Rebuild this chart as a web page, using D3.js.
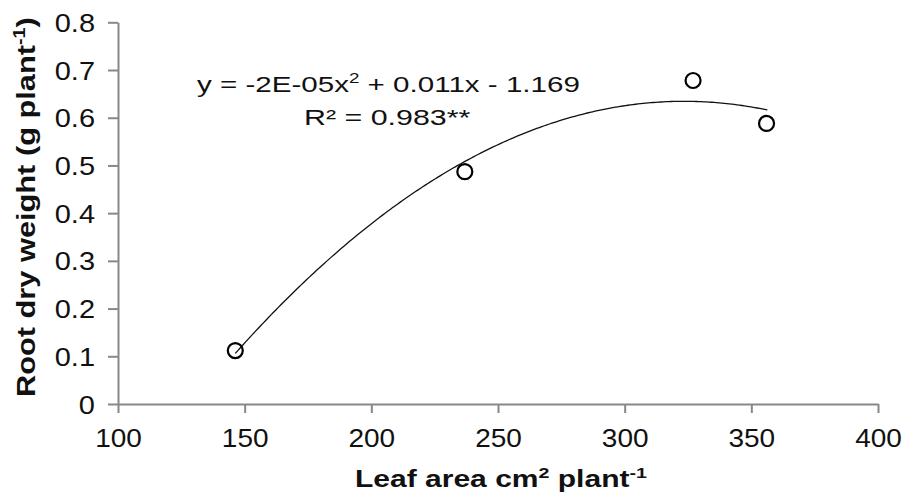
<!DOCTYPE html>
<html>
<head>
<meta charset="utf-8">
<script src="https://cdn.jsdelivr.net/npm/d3@7"></script>
<style>
  body { margin: 0; background: #fff; }
  svg { font-family: "Liberation Sans", Arial, sans-serif; }
  .axis path, .axis line { stroke: #888; stroke-width: 2; }
  .axis text { font-size: 25px; fill: #111; }
</style>
</head>
<body>
<svg id="chart" width="907" height="492"></svg>
<script>
// data
var leafArea = [146.3, 236.9, 327.0, 356.0];
var rootWeight = [0.112, 0.487, 0.678, 0.588];
var xTicks = [100, 150, 200, 250, 300, 350, 400];
var yTicks = [0, 0.1, 0.2, 0.3, 0.4, 0.5, 0.6, 0.7, 0.8];

var svg = d3.select('#chart');

var x = d3.scaleLinear().domain([100, 400]).range([118, 878]);
var y = d3.scaleLinear().domain([0, 0.8]).range([404, 22.3]);

// stretch a text sideways so it takes the given width (the original type is wide)
function stretch(node, anchorX, width) {
    var w = node.getBBox().width;
    var k = width / w;
    d3.select(node).attr('transform', `translate(${anchorX},0) scale(${k},1) translate(${-anchorX},0)`);
}

// axes
var gx = svg.append('g')
    .attr('class', 'axis')
    .attr('transform', 'translate(0,404)')
    .call(d3.axisBottom(x).tickValues(xTicks).tickSize(9).tickPadding(0).tickSizeOuter(0));
gx.selectAll('text').attr('dy', null).attr('y', 43);
gx.selectAll('text').each(function() { stretch(this, 0, this.getBBox().width * 1.12); });

var gy = svg.append('g')
    .attr('class', 'axis')
    .attr('transform', 'translate(118,0)')
    .call(d3.axisLeft(y).tickValues(yTicks).tickSize(10).tickPadding(0).tickSizeOuter(0)
        .tickFormat(d => d === 0 ? '0' : d3.format('.1f')(d)));
gy.selectAll('text').attr('x', -23).attr('dy', '0.36em');
gy.selectAll('text').each(function() { stretch(this, -23, this.getBBox().width * 1.16); });

// quadratic least squares through the points
function quadFit(xs, ys) {
    var n = xs.length, s = [0,0,0,0,0], t = [0,0,0];
    for (var i = 0; i < n; i++) {
        for (var k = 0; k < 5; k++) s[k] += Math.pow(xs[i], k);
        for (var k = 0; k < 3; k++) t[k] += ys[i] * Math.pow(xs[i], k);
    }
    var A = [[s[0], s[1], s[2], t[0]], [s[1], s[2], s[3], t[1]], [s[2], s[3], s[4], t[2]]];
    for (var c = 0; c < 3; c++) {
        for (var r = c + 1; r < 3; r++) {
            var f = A[r][c] / A[c][c];
            for (var j = c; j < 4; j++) A[r][j] -= f * A[c][j];
        }
    }
    var b = [0,0,0];
    for (var r = 2; r >= 0; r--) {
        var v = A[r][3];
        for (var j = r + 1; j < 3; j++) v -= A[r][j] * b[j];
        b[r] = v / A[r][r];
    }
    return b;
}

var coef = quadFit(leafArea, rootWeight);
var xs = d3.range(leafArea[0], leafArea[leafArea.length - 1] + 0.5, 1);
var fitLine = d3.line()
    .x(d => x(d))
    .y(d => y(coef[0] + coef[1] * d + coef[2] * d * d));

svg.append('path')
    .datum(xs)
    .attr('d', fitLine)
    .attr('fill', 'none')
    .attr('stroke', '#111')
    .attr('stroke-width', 1.3);

svg.selectAll('.pt')
    .data(leafArea)
    .join('circle')
    .classed('pt', true)
    .attr('cx', d => x(d))
    .attr('cy', (d, i) => y(rootWeight[i]))
    .attr('r', 7.5)
    .attr('fill', 'none')
    .attr('stroke', '#000')
    .attr('stroke-width', 2.2);

// equation
var eq = svg.append('text')
    .attr('x', 197).attr('y', 92)
    .attr('font-size', 22).attr('fill', '#111');
eq.append('tspan').text('y = -2E-05x');
eq.append('tspan').text('2').attr('font-size', 14).attr('dy', -9);
eq.append('tspan').text(' + 0.011x - 1.169').attr('dy', 9);
stretch(eq.node(), 197, 383);

var r2 = svg.append('text')
    .attr('x', 304).attr('y', 125)
    .attr('font-size', 22).attr('fill', '#111')
    .text('R² = 0.983**');
stretch(r2.node(), 304, 167);

// axis titles
var xt = svg.append('text')
    .attr('x', 355).attr('y', 487)
    .attr('font-size', 23).attr('font-weight', 'bold').attr('fill', '#111');
xt.append('tspan').text('Leaf area cm');
xt.append('tspan').text('2').attr('font-size', 15).attr('dy', -9);
xt.append('tspan').text(' plant').attr('dy', 9);
xt.append('tspan').text('-1').attr('font-size', 15).attr('dy', -9);
stretch(xt.node(), 355, 292);

var ytg = svg.append('g').attr('transform', 'translate(35,397) rotate(-90)');
var yt = ytg.append('text')
    .attr('x', 0).attr('y', 0)
    .attr('font-size', 25).attr('font-weight', 'bold').attr('fill', '#111');
yt.append('tspan').text('Root dry weight (g plant');
yt.append('tspan').text('-1').attr('font-size', 16).attr('dy', -10);
yt.append('tspan').text(')').attr('dy', 10);
stretch(yt.node(), 0, 380);
</script>
</body>
</html>
